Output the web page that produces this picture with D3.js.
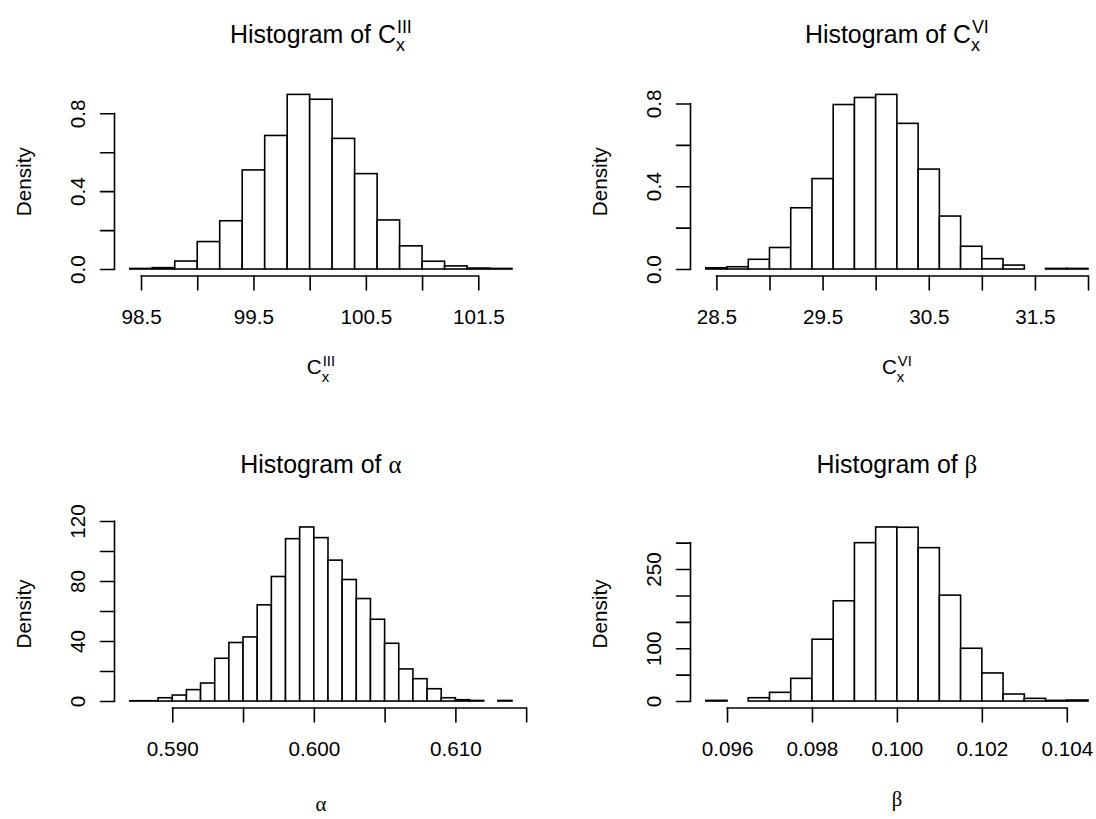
<!DOCTYPE html>
<html><head><meta charset="utf-8">
<script src="https://cdn.jsdelivr.net/npm/d3@7"></script>
<style>body{margin:0;background:#fff} svg{display:block} text{white-space:pre}</style>
</head><body>
<svg id="chart" width="1096" height="819"></svg>
<script>
// ---------- data ----------
const cIIIBreaks = [98.4,98.6,98.8,99.0,99.2,99.4,99.6,99.8,100.0,100.2,100.4,100.6,100.8,101.0,101.2,101.4,101.6,101.8];
const cIIIDensity = [0.003,0.007,0.041,0.141,0.248,0.509,0.686,0.897,0.872,0.671,0.490,0.252,0.119,0.040,0.016,0.005,0.003];
const cIIIXTicks = [98.5,99.0,99.5,100.0,100.5,101.0,101.5];
const cIIIXLabels = ["98.5","","99.5","","100.5","","101.5"];
const cIIIYTicks = [0,0.2,0.4,0.6,0.8];
const cIIIYLabels = ["0.0","","0.4","","0.8"];

const cVIBreaks = [28.4,28.6,28.8,29.0,29.2,29.4,29.6,29.8,30.0,30.2,30.4,30.6,30.8,31.0,31.2,31.4,31.6,31.8,32.0];
const cVIDensity = [0.006,0.011,0.047,0.104,0.296,0.437,0.795,0.829,0.844,0.704,0.483,0.256,0.110,0.050,0.019,0,0.003,0.003];
const cVIXTicks = [28.5,29.0,29.5,30.0,30.5,31.0,31.5,32.0];
const cVIXLabels = ["28.5","","29.5","","30.5","","31.5",""];
const cVIYTicks = [0,0.2,0.4,0.6,0.8];
const cVIYLabels = ["0.0","","0.4","","0.8"];

const alphaBreaks = [0.587,0.588,0.589,0.590,0.591,0.592,0.593,0.594,0.595,0.596,0.597,0.598,0.599,0.600,0.601,0.602,0.603,0.604,0.605,0.606,0.607,0.608,0.609,0.610,0.611,0.612,0.613,0.614];
const alphaDensity = [0.2,0.2,2.2,4.0,7.6,12.0,28.5,39.0,42.7,64.1,83.0,108.2,116.0,108.9,93.9,81.0,68.3,54.5,38.5,21.4,14.9,8.2,2.2,0.9,0.4,0,0.4];
const alphaXTicks = [0.590,0.595,0.600,0.605,0.610,0.615];
const alphaXLabels = ["0.590","","0.600","","0.610",""];
const alphaYTicks = [0,20,40,60,80,100,120];
const alphaYLabels = ["0","","40","","80","","120"];

const betaBreaks = [0.0955,0.0960,0.0965,0.0970,0.0975,0.0980,0.0985,0.0990,0.0995,0.1000,0.1005,0.1010,0.1015,0.1020,0.1025,0.1030,0.1035,0.1040,0.1045];
const betaDensity = [1.3,0,6.3,16.5,43.0,117.1,189.9,300.0,329.7,329.1,290.5,200.6,100.0,53.2,13.3,5.1,1.3,1.9];
const betaXTicks = [0.096,0.098,0.100,0.102,0.104];
const betaXLabels = ["0.096","0.098","0.100","0.102","0.104"];
const betaYTicks = [0,50,100,150,200,250,300];
const betaYLabels = ["0","","100","","","250",""];

const titlePrefix = "Histogram of\u00A0";
const yTitle = "Density";

// ---------- style ----------
const SANS = "'Liberation Sans', Arial, Helvetica, sans-serif";
const SERIF = "'Liberation Serif', 'DejaVu Serif', serif";
const AX = 20.7, TT = 24.9, LW = 1.6;

const svg = d3.select("#chart");
svg.append("rect").attr("width",1096).attr("height",819).attr("fill","#fff");

// expression: main text (sans), optional greek (serif), optional sub/sup stacked
function expr(cx, y, size, main, greek, sub, sup, subDy, supDy) {
  const g = svg.append("g");
  let w = 0;
  if (main) {
    const t = g.append("text").attr("x",0).attr("y",y).attr("font-family",SANS).attr("font-size",size).attr("fill","#000").text(main);
    w += t.node().getComputedTextLength();
  }
  if (greek) {
    const t = g.append("text").attr("x",w).attr("y",y).attr("font-family",SERIF).attr("font-size",size).attr("fill","#000").text(greek);
    w += t.node().getComputedTextLength();
  }
  let extra = 0;
  if (sub) {
    const t = g.append("text").attr("x",w).attr("y",y+subDy).attr("font-family",SANS).attr("font-size",size*0.72).attr("fill","#000").text(sub);
    extra = Math.max(extra, t.node().getComputedTextLength());
  }
  if (sup) {
    const t = g.append("text").attr("x",w+1).attr("y",y-supDy).attr("font-family",SANS).attr("font-size",size*0.72).attr("fill","#000").text(sup);
    extra = Math.max(extra, t.node().getComputedTextLength()+1);
  }
  w += extra;
  g.attr("transform",`translate(${cx - w/2},0)`);
}

function panel(cfg) {
  const g = svg.append("g");
  const b = cfg.breaks, d = cfg.density;
  const span = b[b.length-1]-b[0];
  const x = d3.scaleLinear().domain([b[0]-0.04*span, b[b.length-1]+0.04*span]).range([cfg.left, cfg.right]);
  const ymax = d3.max(d);
  const y = d3.scaleLinear().domain([-0.04*ymax, 1.04*ymax]).range([cfg.bottom, cfg.top]);
  const bins = d.map((v,i)=>({x0:b[i], x1:b[i+1], v}));

  g.append("g").selectAll("rect").data(bins.filter(e=>e.v>0)).join("rect")
    .attr("x", e=>x(e.x0)).attr("y", e=>y(e.v))
    .attr("width", e=>x(e.x1)-x(e.x0)).attr("height", e=>y(0)-y(e.v))
    .attr("fill","#fff").attr("stroke","#000").attr("stroke-width",LW);

  // x axis
  const xa = g.append("g").attr("transform",`translate(0,${cfg.bottom})`)
    .call(d3.axisBottom(x).tickValues(cfg.xTicks).tickFormat((t,i)=>cfg.xLabels[i]).tickSize(14).tickSizeOuter(0))
    .attr("font-family",SANS).attr("font-size",AX);
  xa.select(".domain").remove();
  xa.append("line").attr("x1",x(cfg.xTicks[0])).attr("x2",x(cfg.xTicks[cfg.xTicks.length-1]))
    .attr("stroke","#000").attr("stroke-width",LW).attr("stroke-linecap","round");
  xa.selectAll(".tick line").attr("stroke","#000").attr("stroke-width",LW).attr("stroke-linecap","round");
  xa.selectAll(".tick text").attr("y",48).attr("dy",0).attr("fill","#000");

  // y axis
  const ya = g.append("g").attr("transform",`translate(${cfg.left},0)`)
    .call(d3.axisLeft(y).tickValues(cfg.yTicks).tickFormat((t,i)=>cfg.yLabels[i]).tickSize(14).tickSizeOuter(0))
    .attr("font-family",SANS).attr("font-size",AX);
  ya.select(".domain").remove();
  ya.append("line").attr("x1",0).attr("x2",0).attr("y1",y(cfg.yTicks[0])).attr("y2",y(cfg.yTicks[cfg.yTicks.length-1]))
    .attr("stroke","#000").attr("stroke-width",LW).attr("stroke-linecap","round");
  ya.selectAll(".tick line").attr("stroke","#000").attr("stroke-width",LW).attr("stroke-linecap","round");
  ya.selectAll(".tick text").attr("transform","rotate(-90)").attr("x",0).attr("y",-30).attr("dy",0)
    .attr("text-anchor","middle").attr("fill","#000");

  // y title
  const cy = (cfg.top+cfg.bottom)/2;
  svg.append("text").attr("transform",`translate(${cfg.left-84},${cy}) rotate(-90)`)
    .attr("text-anchor","middle").attr("font-family",SANS).attr("font-size",AX).attr("fill","#000").text(yTitle);

  const cx = (cfg.left+cfg.right)/2;
  // main title
  expr(cx, cfg.titleY, TT, titlePrefix + (cfg.sym.greek ? "" : cfg.sym.main), cfg.sym.greek, cfg.sym.sub, cfg.sym.sup, 8.5, 10);
  // x title
  expr(cx, cfg.xlabY, AX, cfg.sym.greek ? "" : cfg.sym.main, cfg.sym.greek, cfg.sym.sub, cfg.sym.sup, 7.5, 8.5);
}

const L = [114.5, 527.3], R = [690.5, 1103.3];
const T = [87.4, 276], B = [520, 708];

panel({breaks:cIIIBreaks, density:cIIIDensity, xTicks:cIIIXTicks, xLabels:cIIIXLabels, yTicks:cIIIYTicks, yLabels:cIIIYLabels,
  left:L[0], right:L[1], top:T[0], bottom:T[1], titleY:42.5, xlabY:374, sym:{main:"C", sub:"x", sup:"III"}});
panel({breaks:cVIBreaks, density:cVIDensity, xTicks:cVIXTicks, xLabels:cVIXLabels, yTicks:cVIYTicks, yLabels:cVIYLabels,
  left:R[0], right:R[1], top:T[0], bottom:T[1], titleY:42.5, xlabY:374, sym:{main:"C", sub:"x", sup:"VI"}});
panel({breaks:alphaBreaks, density:alphaDensity, xTicks:alphaXTicks, xLabels:alphaXLabels, yTicks:alphaYTicks, yLabels:alphaYLabels,
  left:L[0], right:L[1], top:B[0], bottom:B[1], titleY:473, xlabY:811, sym:{greek:"α"}});
panel({breaks:betaBreaks, density:betaDensity, xTicks:betaXTicks, xLabels:betaXLabels, yTicks:betaYTicks, yLabels:betaYLabels,
  left:R[0], right:R[1], top:B[0], bottom:B[1], titleY:473, xlabY:806, sym:{greek:"β"}});
</script>
</body></html>
